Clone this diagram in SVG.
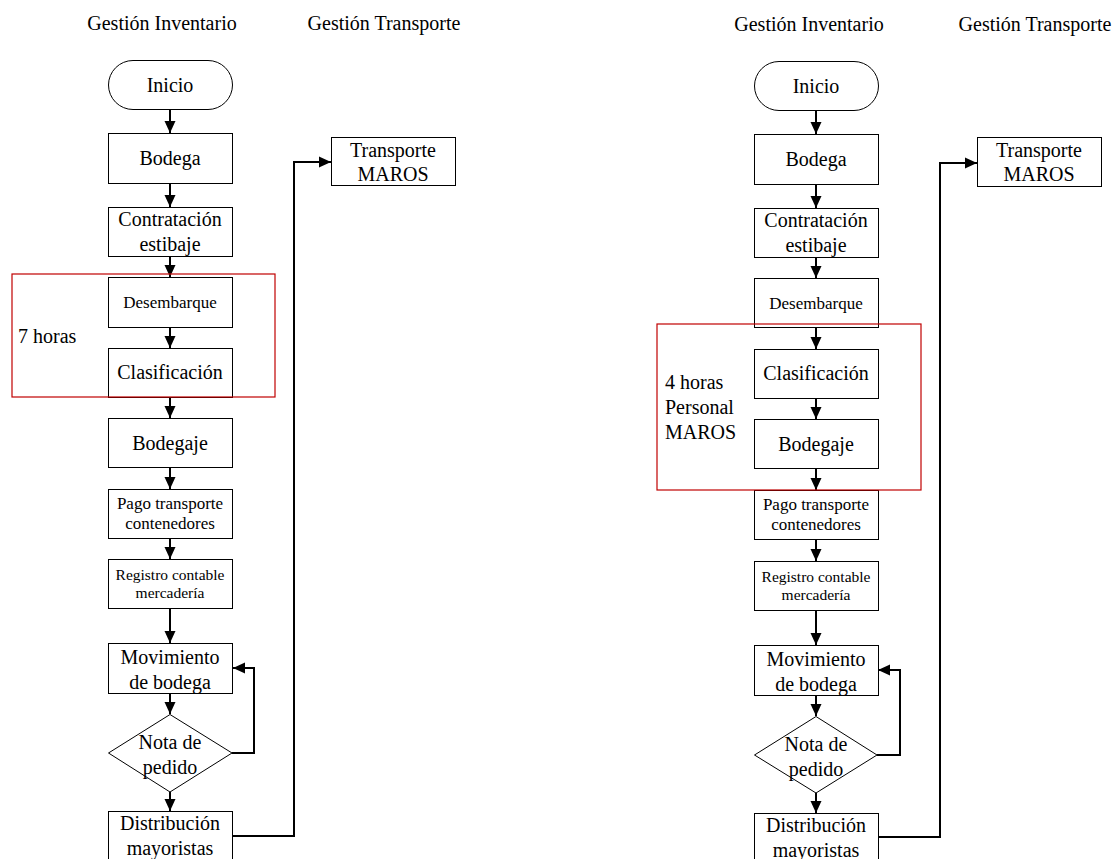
<svg xmlns="http://www.w3.org/2000/svg" width="1119" height="859" viewBox="0 0 1119 859">
  <style>
    text { font-family: "Liberation Serif", "Times New Roman", serif; fill: #000; }
    .t20 { font-size: 20px; text-anchor: middle; }
    .t17 { font-size: 17px; text-anchor: middle; }
    .t16 { font-size: 15.5px; text-anchor: middle; }
    .lbl { font-size: 20px; }
    .box { fill: #fff; stroke: #000; stroke-width: 1; }
    .zone { fill: none; stroke: #c00000; stroke-width: 1.2; }
    .conn { fill: none; stroke: #000; stroke-width: 2; marker-end: url(#arrow); }
  </style>
  <defs>
    <marker id="arrow" viewBox="0 0 12 12" refX="12" refY="6" markerWidth="12" markerHeight="12" markerUnits="userSpaceOnUse" orient="auto">
      <path d="M0,0.5 L12,6 L0,11.5 Z" fill="#000"/>
    </marker>
  </defs>
  <rect width="1119" height="859" fill="#fff"/>

  <!-- ===== Flow A (left) ===== -->
  <g id="a-titles">
    <text class="t20" x="162" y="30">Gestión Inventario</text>
    <text class="t20" x="384" y="30">Gestión Transporte</text>
  </g>

  <g id="a-connectors">
    <path class="conn" d="M170,109 V133"/>
    <path class="conn" d="M170,183 V207"/>
    <path class="conn" d="M170,256 V277"/>
    <path class="conn" d="M170,327 V348"/>
    <path class="conn" d="M170,397 V418"/>
    <path class="conn" d="M170,467 V489"/>
    <path class="conn" d="M170,538 V559"/>
    <path class="conn" d="M170,608 V643"/>
    <path class="conn" d="M170,693 V714"/>
    <path class="conn" d="M170,792 V811"/>
    <path class="conn" d="M232,753 H254 V668 H233"/>
    <path class="conn" d="M233,836 H294 V162 H331"/>
  </g>

  <g id="a-inicio">
    <rect class="box" x="108.5" y="60.5" width="124" height="49" rx="24.5" ry="24.5"/>
    <text class="t20" x="170" y="92">Inicio</text>
  </g>
  <g id="a-bodega">
    <rect class="box" x="108.5" y="133.5" width="124" height="50"/>
    <text class="t20" x="170" y="165">Bodega</text>
  </g>
  <g id="a-contratacion">
    <rect class="box" x="108.5" y="207.5" width="124" height="49"/>
    <text class="t20" x="170" y="226">Contratación</text>
    <text class="t20" x="170" y="251">estibaje</text>
  </g>
  <g id="a-desembarque">
    <rect class="box" x="108.5" y="277.5" width="124" height="50"/>
    <text class="t17" x="170" y="308">Desembarque</text>
  </g>
  <g id="a-clasificacion">
    <rect class="box" x="108.5" y="348.5" width="124" height="49"/>
    <text class="t20" x="170" y="379">Clasificación</text>
  </g>
  <g id="a-bodegaje">
    <rect class="box" x="108.5" y="418.5" width="124" height="49"/>
    <text class="t20" x="170" y="450">Bodegaje</text>
  </g>
  <g id="a-pago">
    <rect class="box" x="108.5" y="489.5" width="124" height="49"/>
    <text class="t17" x="170" y="509">Pago transporte</text>
    <text class="t17" x="170" y="529">contenedores</text>
  </g>
  <g id="a-registro">
    <rect class="box" x="108.5" y="559.5" width="124" height="49"/>
    <text class="t16" x="170" y="580">Registro contable</text>
    <text class="t16" x="170" y="598">mercadería</text>
  </g>
  <g id="a-movimiento">
    <rect class="box" x="108.5" y="643.5" width="124" height="50"/>
    <text class="t20" x="170" y="664">Movimiento</text>
    <text class="t20" x="170" y="689">de bodega</text>
  </g>
  <g id="a-nota">
    <polygon class="box" points="170,714.5 232,753 170,792 108.5,753"/>
    <text class="t20" x="170" y="749">Nota de</text>
    <text class="t20" x="170" y="774">pedido</text>
  </g>
  <g id="a-distribucion">
    <rect class="box" x="108.5" y="811.5" width="124" height="60"/>
    <text class="t20" x="170" y="830">Distribución</text>
    <text class="t20" x="170" y="855">mayoristas</text>
  </g>
  <g id="a-transporte">
    <rect class="box" x="331.5" y="137.5" width="124" height="48"/>
    <text class="t20" x="393" y="157">Transporte</text>
    <text class="t20" x="393" y="181">MAROS</text>
  </g>
  <g id="a-zone">
    <rect class="zone" x="12" y="274" width="263" height="123"/>
    <text class="lbl" x="18" y="343">7 horas</text>
  </g>

  <!-- ===== Flow B (right) ===== -->
  <g id="b-titles">
    <text class="t20" x="809" y="31">Gestión Inventario</text>
    <text class="t20" x="1035" y="31">Gestión Transporte</text>
  </g>

  <g id="b-connectors">
    <path class="conn" d="M816,110 V134"/>
    <path class="conn" d="M816,184 V208"/>
    <path class="conn" d="M816,258 V278"/>
    <path class="conn" d="M816,327 V349"/>
    <path class="conn" d="M816,398 V419"/>
    <path class="conn" d="M816,468 V490"/>
    <path class="conn" d="M816,539 V561"/>
    <path class="conn" d="M816,610 V645"/>
    <path class="conn" d="M816,695 V716"/>
    <path class="conn" d="M816,793 V813"/>
    <path class="conn" d="M877,755 H900 V670 H878"/>
    <path class="conn" d="M878,837 H940 V163 H977"/>
  </g>

  <g id="b-inicio">
    <rect class="box" x="754.5" y="61.5" width="124" height="49" rx="24.5" ry="24.5"/>
    <text class="t20" x="816" y="93">Inicio</text>
  </g>
  <g id="b-bodega">
    <rect class="box" x="754.5" y="134.5" width="124" height="50"/>
    <text class="t20" x="816" y="166">Bodega</text>
  </g>
  <g id="b-contratacion">
    <rect class="box" x="754.5" y="208.5" width="124" height="49"/>
    <text class="t20" x="816" y="227">Contratación</text>
    <text class="t20" x="816" y="252">estibaje</text>
  </g>
  <g id="b-desembarque">
    <rect class="box" x="754.5" y="278.5" width="124" height="49"/>
    <text class="t17" x="816" y="309">Desembarque</text>
  </g>
  <g id="b-clasificacion">
    <rect class="box" x="754.5" y="349.5" width="124" height="49"/>
    <text class="t20" x="816" y="380">Clasificación</text>
  </g>
  <g id="b-bodegaje">
    <rect class="box" x="754.5" y="419.5" width="124" height="49"/>
    <text class="t20" x="816" y="451">Bodegaje</text>
  </g>
  <g id="b-pago">
    <rect class="box" x="754.5" y="490.5" width="124" height="49"/>
    <text class="t17" x="816" y="510">Pago transporte</text>
    <text class="t17" x="816" y="530">contenedores</text>
  </g>
  <g id="b-registro">
    <rect class="box" x="754.5" y="561.5" width="124" height="49"/>
    <text class="t16" x="816" y="582">Registro contable</text>
    <text class="t16" x="816" y="600">mercadería</text>
  </g>
  <g id="b-movimiento">
    <rect class="box" x="754.5" y="645.5" width="124" height="50"/>
    <text class="t20" x="816" y="666">Movimiento</text>
    <text class="t20" x="816" y="691">de bodega</text>
  </g>
  <g id="b-nota">
    <polygon class="box" points="816,716.5 877,755 816,793 754.5,755"/>
    <text class="t20" x="816" y="751">Nota de</text>
    <text class="t20" x="816" y="776">pedido</text>
  </g>
  <g id="b-distribucion">
    <rect class="box" x="754.5" y="813.5" width="124" height="60"/>
    <text class="t20" x="816" y="832">Distribución</text>
    <text class="t20" x="816" y="857">mayoristas</text>
  </g>
  <g id="b-transporte">
    <rect class="box" x="977.5" y="137.5" width="124" height="49"/>
    <text class="t20" x="1039" y="157">Transporte</text>
    <text class="t20" x="1039" y="181">MAROS</text>
  </g>
  <g id="b-zone">
    <rect class="zone" x="657" y="324" width="264" height="166"/>
    <text class="lbl" x="665" y="389">4 horas</text>
    <text class="lbl" x="665" y="414">Personal</text>
    <text class="lbl" x="665" y="439">MAROS</text>
  </g>
</svg>
